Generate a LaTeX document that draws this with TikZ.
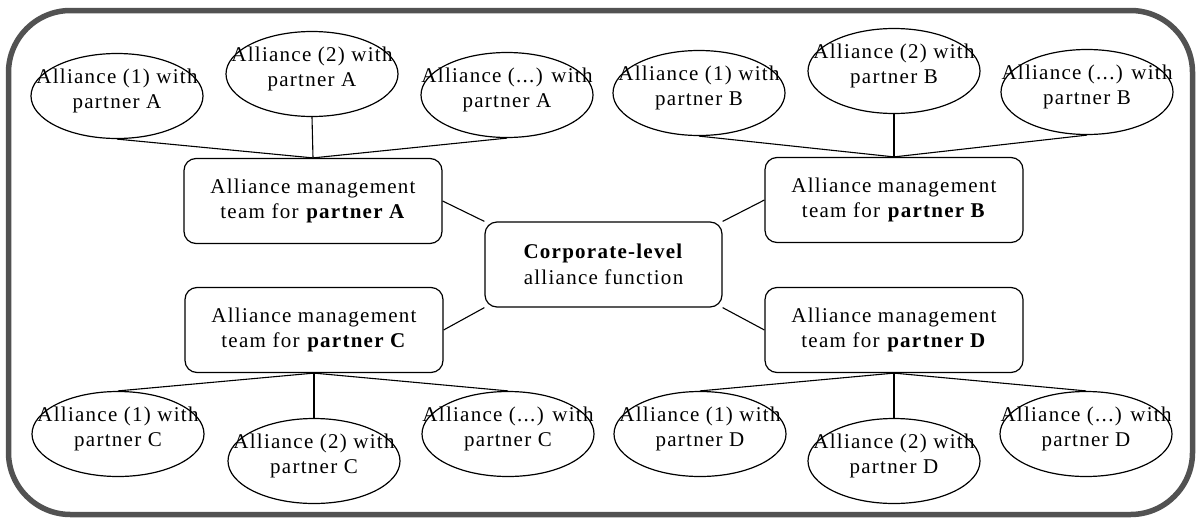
\documentclass[tikz,border=0pt]{standalone}
\usepackage{fontspec}
\setmainfont{Liberation Serif}[LetterSpace=6]
\usetikzlibrary{shapes.geometric}

% two centred lines that do not enlarge the ellipse around them
\newcommand{\elltext}[2]{\raisebox{0pt}[0pt][0pt]{\makebox[0pt]{\begin{tabular}{@{}c@{}}#1\\#2\end{tabular}}}}

\begin{document}
\begin{tikzpicture}[x=1pt, y=-1pt,
  every node/.style={font=\fontsize{21}{25.5}\selectfont},
  team/.style={draw, rounded corners=12pt, minimum width=258pt, minimum height=85pt,
               inner sep=0pt, align=center, line width=1.2pt},
  hub/.style={team, minimum width=237pt},
  partner/.style={draw, ellipse, minimum width=172pt, minimum height=85pt,
                  inner sep=0pt, line width=1.2pt},
  link/.style={line width=1.1pt},
  outerframe/.style={draw=black!68, line width=5.5pt, rounded corners=62pt}]

\useasboundingbox (0,0) rectangle (1201,525);
\draw[outerframe] (8.5,10.5) rectangle (1192.5,514.5);

% corporate hub
\node[hub] (hub) at (603.5,264.5) {\textbf{Corporate-level}\\alliance function};

% one management team per partner
\node[team] (tA) at (313,201) {Alliance management\\team for \textbf{partner A}};
\node[team] (tB) at (894,200) {Alliance management\\team for \textbf{partner B}};
\node[team] (tC) at (314,330) {Alliance management\\team for \textbf{partner C}};
\node[team] (tD) at (894,330) {Alliance management\\team for \textbf{partner D}};

% individual alliances
\node[partner] (a1) at (117,96)  {\elltext{Alliance (1) with}{partner A}};
\node[partner] (a2) at (312,74)  {\elltext{Alliance (2) with}{partner A}};
\node[partner] (a3) at (507,95)  {\elltext{Alliance (...) with}{partner A}};
\node[partner] (b1) at (699,93)  {\elltext{Alliance (1) with}{partner B}};
\node[partner] (b2) at (894,71)  {\elltext{Alliance (2) with}{partner B}};
\node[partner] (b3) at (1087,92) {\elltext{Alliance (...) with}{partner B}};
\node[partner] (c1) at (118,434) {\elltext{Alliance (1) with}{partner C}};
\node[partner] (c2) at (314,461) {\elltext{Alliance (2) with}{partner C}};
\node[partner] (c3) at (508,434) {\elltext{Alliance (...) with}{partner C}};
\node[partner] (d1) at (700,434) {\elltext{Alliance (1) with}{partner D}};
\node[partner] (d2) at (894,461) {\elltext{Alliance (2) with}{partner D}};
\node[partner] (d3) at (1086,434){\elltext{Alliance (...) with}{partner D}};

% hub to teams
\draw[link] (tA.east) -- (hub.north west);
\draw[link] (tB.west) -- (hub.north east);
\draw[link] (tC.east) -- (hub.south west);
\draw[link] (tD.west) -- (hub.south east);

% teams to alliances
\foreach \e in {a1,a2,a3} \draw[link] (tA.north) -- (\e.south);
\foreach \e in {b1,b2,b3} \draw[link] (tB.north) -- (\e.south);
\foreach \e in {c1,c2,c3} \draw[link] (tC.south) -- (\e.north);
\foreach \e in {d1,d2,d3} \draw[link] (tD.south) -- (\e.north);
\end{tikzpicture}
\end{document}
